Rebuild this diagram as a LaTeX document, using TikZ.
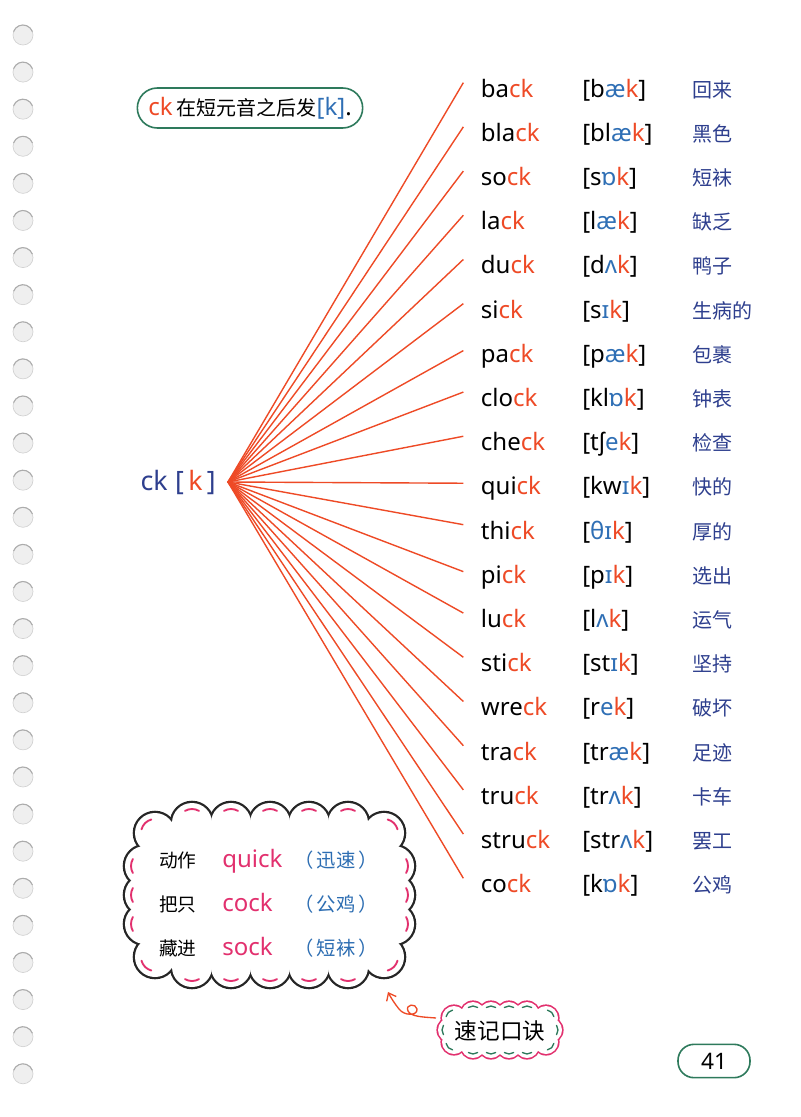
\documentclass[tikz,border=0pt]{standalone}
\usepackage{fontspec}
\setmainfont{Noto Sans}
\newfontfamily\cjk{Noto Sans CJK SC}
\usetikzlibrary{arrows.meta, positioning}

\definecolor{ckred}{HTML}{EE4A26}
\definecolor{vowelblue}{HTML}{2F6FB5}
\definecolor{meaningblue}{HTML}{2E3F8E}
\definecolor{framegreen}{HTML}{2E7A5C}
\definecolor{rhymepink}{HTML}{E2306E}
\definecolor{rhymeblue}{HTML}{2C6DB2}
\definecolor{holegray}{HTML}{EFEFEF}

\newcommand{\ckr}{\textcolor{ckred}{ck}}
\newcommand{\kr}{\textcolor{ckred}{k}}
\newcommand{\vb}[1]{\textcolor{vowelblue}{#1}}

\tikzset{
  word/.style={anchor=base west, inner sep=2pt, font=\fontsize{18}{20}\selectfont},
  sound/.style={anchor=base west, inner sep=0pt, font=\fontsize{18}{20}\selectfont},
  meaning/.style={anchor=base west, inner sep=0pt, text=meaningblue, font=\fontsize{15}{17}\selectfont\cjk},
  ray/.style={draw=ckred, line width=1.05pt},
  tag/.style={draw=framegreen, line width=1.2pt, inner sep=0pt},
  rhyme/.style={anchor=base west, inner sep=0pt},
  curl/.style={draw=ckred, line width=1pt, -{Straight Barb[length=5pt, width=8pt]}},
}

\begin{document}
\begin{tikzpicture}[x=0.75pt, y=-0.75pt]
\useasboundingbox (0,0) rectangle (800,1117);
\fill[white] (0,0) rectangle (800,1117);

% binder holes
\foreach \k in {0,...,28}{
  \fill[holegray] (23,35+37.1*\k) circle[radius=10];
  \draw[gray!35, line width=0.5pt] (23,35+37.1*\k) circle[radius=10];
  \draw[gray!65, line width=0.8pt] ([shift={(200:10)}]23,35+37.1*\k) arc[start angle=200, end angle=340, radius=10];
}

% rule tag
\node[tag, rounded corners=15pt, minimum width=169pt, minimum height=30pt] (rule) at (250,108)
  {\fontsize{18}{20}\selectfont\textcolor{ckred}{ck}\,{\fontsize{15}{17}\selectfont\cjk 在短元音之后发}\textcolor{vowelblue}{[k]}.};

% hub
\coordinate (hub) at (228,482);
\node[anchor=east, inner sep=0pt, text=meaningblue, font=\fontsize{20}{22}\selectfont] (hublabel) at (216,482) {ck\;[\,\kr\,]};

% word list
\foreach \stem/\ipa/\cn [count=\i from 0] in {
  ba/{b\vb{æ}}/回来, bla/{bl\vb{æ}}/黑色, so/{s\vb{ɒ}}/短袜, la/{l\vb{æ}}/缺乏, du/{d\vb{ʌ}}/鸭子,
  si/{s\vb{ɪ}}/生病的, pa/{p\vb{æ}}/包裹, clo/{kl\vb{ɒ}}/钟表, che/{tʃ\vb{e}}/检查, qui/{kw\vb{ɪ}}/快的,
  thi/{\vb{θɪ}}/厚的, pi/{p\vb{ɪ}}/选出, lu/{l\vb{ʌ}}/运气, sti/{st\vb{ɪ}}/坚持, wre/{r\vb{e}}/破坏,
  tra/{tr\vb{æ}}/足迹, tru/{tr\vb{ʌ}}/卡车, stru/{str\vb{ʌ}}/罢工, co/{k\vb{ɒ}}/公鸡}
{
  \pgfmathsetmacro{\rowy}{97+44.2*\i}
  \node[word] (w\i) at (478,\rowy) {\stem\ckr};
  \node[sound] (p\i) at (582,\rowy) {[\ipa\kr]};
  \node[meaning] (m\i) at (692,\rowy) {\cn};
  \draw[ray] (hub) -- ([xshift=-11pt, yshift=4pt]w\i.west);
}

% cloud of the rhyme
\def\cloudbumps{155/833/-135, 192/823/-90, 231/823/-90, 270/823/-90, 309/823/-90, 348/823/-90,
  384/833/-45, 394/866/0, 394/895/0, 394/924/0, 384/957/45,
  348/967/90, 309/967/90, 270/967/90, 231/967/90, 192/967/90,
  155/957/135, 145/924/180, 145/895/180, 145/866/180}
\foreach \bx/\by/\bth in \cloudbumps
  \fill[black!85] (\bx,\by) circle[radius=22.3];
\foreach \bx/\by/\bth in \cloudbumps
  \fill[white] (\bx,\by) circle[radius=20];
\fill[white, rounded corners=26pt] (145,823) rectangle (394,967);
\foreach \bx/\by/\bth in \cloudbumps
  \draw[rhymepink, line width=1.4pt, line cap=round] ([shift={(\bth-30:14)}]\bx,\by) arc[start angle=\bth-30, end angle=\bth+30, radius=14];

\foreach \act/\eng/\gloss [count=\r from 0] in {动作/quick/迅速, 把只/cock/公鸡, 藏进/sock/短袜}{
  \pgfmathsetmacro{\liney}{867+44*\r}
  \node[rhyme, font=\fontsize{14}{16}\selectfont\cjk] (act\r) at (159,\liney) {\act};
  \node[rhyme, text=rhymepink, font=\fontsize{18}{20}\selectfont] (eng\r) at (222,\liney) {\eng};
  \node[rhyme, text=rhymeblue, font=\fontsize{14.5}{16}\selectfont\cjk] (gloss\r) at (294,\liney) {（\,\gloss\,）};
}

% motto bubble
\def\mottobumps{454/1018/-135, 473/1014/-90, 491/1014/-90, 509/1014/-90, 527/1014/-90,
  546/1018/-45, 550/1030/0, 546/1042/45, 527/1046/90, 509/1046/90, 491/1046/90, 473/1046/90,
  454/1042/135, 450/1030/180}
\foreach \bx/\by/\bth in \mottobumps
  \fill[rhymepink] (\bx,\by) circle[radius=13.6];
\foreach \bx/\by/\bth in \mottobumps
  \fill[white] (\bx,\by) circle[radius=12];
\fill[white, rounded corners=11pt] (450,1014) rectangle (550,1046);
\foreach \bx/\by/\bth in \mottobumps
  \draw[framegreen, line width=1pt, line cap=round] ([shift={(\bth-35:8)}]\bx,\by) arc[start angle=\bth-35, end angle=\bth+35, radius=8];
\node[font=\fontsize{17}{19}\selectfont\cjk] (motto) at (500,1031) {速记口诀};

\coordinate (tail) at (436,1018);
\coordinate (tip) at (388,992);
\draw[curl] (tail) .. controls (424,1017) and (411,1017) .. (408,1011)
  .. controls (405,1004) and (416,1003) .. (417,1009)
  .. controls (418,1016) and (404,1016) .. (399,1009)
  .. controls (395,1004) and (391,998) .. (tip);

% page number
\node[tag, rounded corners=12pt, minimum width=54pt, minimum height=25pt, font=\fontsize{17}{19}\selectfont] (page) at (714,1061) {41};
\end{tikzpicture}
\end{document}
